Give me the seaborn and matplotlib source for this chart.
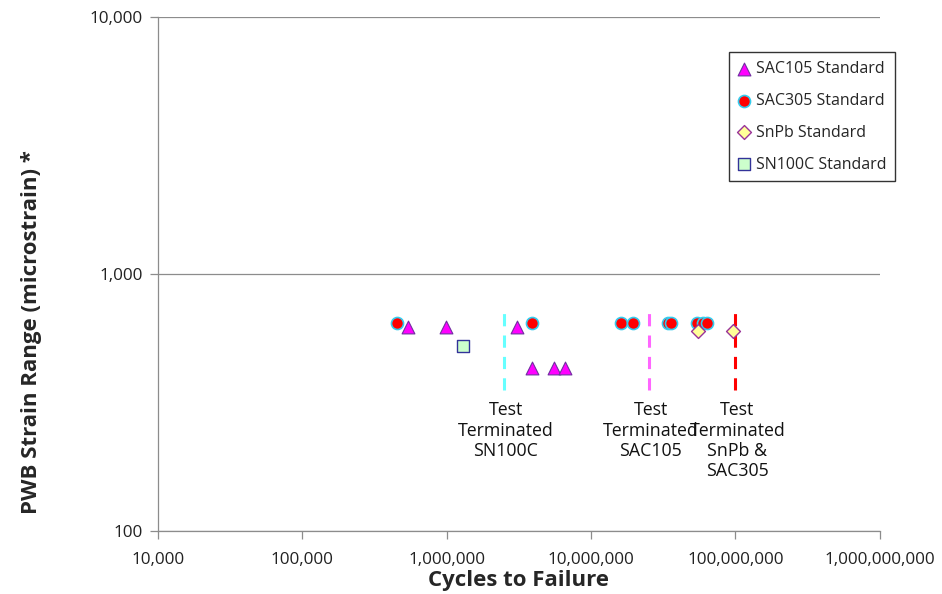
# libraries
import seaborn as sns
import matplotlib.pyplot as plt
import matplotlib.ticker as mticker
import pandas as pd

# data (cycles to failure, strain range)
sac105_cycles = [538000, 990000, 3060000, 3890000, 5520000, 6590000]
sac105_strain = [620, 620, 620, 430, 430, 430]

sac305_cycles = [452000, 3890000, 16100000, 19400000, 34000000, 35700000, 54100000, 59500000, 63400000]
sac305_strain = [645, 645, 645, 645, 645, 645, 645, 645, 645]

snpb_cycles = [55000000, 96000000]
snpb_strain = [600, 600]

sn100c_cycles = [1290000]
sn100c_strain = [525]

# test termination lines
term_cycles = [2490000, 25100000, 100000000]
term_colors = ["#66FFFF", "#FF66FF", "#FF0000"]
term_labels = ["Test\nTerminated\nSN100C", "Test\nTerminated\nSAC105", "Test\nTerminated\nSnPb &\nSAC305"]

sns.set_style("white")
plt.rcParams["font.family"] = ["Open Sans", "DejaVu Sans"]

fig = plt.figure(figsize=(9.42, 5.94), dpi=100)
ax = fig.add_axes([0.1677, 0.106, 0.7663, 0.8654])

ax.set_xscale("log")
ax.set_yscale("log")

# dashed termination lines
for xc, col in zip(term_cycles, term_colors):
    ax.vlines(xc, 354, 760, colors=col, linestyles=(0, (4, 3)), linewidth=2.2, zorder=2)

sns.scatterplot(x=sac105_cycles, y=sac105_strain, marker="^", s=85, color="#FF00FF",
                edgecolor="#7030A0", linewidth=0.8, label="SAC105 Standard", ax=ax, zorder=3)
sns.scatterplot(x=sac305_cycles, y=sac305_strain, marker="o", s=75, color="#FF0000",
                edgecolor="#33CCEE", linewidth=1.2, label="SAC305 Standard", ax=ax, zorder=3)
sns.scatterplot(x=snpb_cycles, y=snpb_strain, marker="D", s=50, color="#FFFF99",
                edgecolor="#993399", linewidth=1.0, label="SnPb Standard", ax=ax, zorder=4)
sns.scatterplot(x=sn100c_cycles, y=sn100c_strain, marker="s", s=75, color="#CCFFCC",
                edgecolor="#333399", linewidth=1.0, label="SN100C Standard", ax=ax, zorder=3)

# termination annotations
for xc, txt in zip(term_cycles, term_labels):
    ax.text(xc * 1.03, 320, txt, ha="center", va="top", fontsize=12.8,
            linespacing=1.17, color="#111111")

ax.set_xlim(1e4, 1e9)
ax.set_ylim(100, 10000)

ax.xaxis.set_major_locator(mticker.LogLocator(base=10, numticks=10))
ax.yaxis.set_major_locator(mticker.LogLocator(base=10, numticks=10))
ax.xaxis.set_minor_locator(mticker.NullLocator())
ax.yaxis.set_minor_locator(mticker.NullLocator())
fmt = mticker.FuncFormatter(lambda v, p: f"{v:,.0f}")
ax.xaxis.set_major_formatter(fmt)
ax.yaxis.set_major_formatter(fmt)

ax.grid(axis="y", color="#8C8C8C", linewidth=0.9)
ax.grid(axis="x", visible=False)
ax.set_axisbelow(True)

for side in ["top", "right"]:
    ax.spines[side].set_visible(False)
for side in ["left", "bottom"]:
    ax.spines[side].set_color("#8C8C8C")
    ax.spines[side].set_linewidth(0.9)

ax.tick_params(axis="both", which="major", direction="out", length=6, width=0.9,
               color="#8C8C8C", labelsize=12.3, labelcolor="#222222", pad=5, left=True, bottom=True)
ax.tick_params(axis="x", pad=9)

ax.set_xlabel("Cycles to Failure", fontsize=16, fontweight="bold")
ax.set_ylabel("PWB Strain Range (microstrain) *", fontsize=16, fontweight="bold")
ax.xaxis.set_label_coords(0.5, -0.076)
ax.yaxis.set_label_coords(-0.16, 0.387)

leg = ax.legend(loc="upper right", bbox_to_anchor=(1.021, 0.932), frameon=True, fancybox=False,
                edgecolor="black", fontsize=11.5, labelspacing=1.0, handletextpad=0.35,
                borderpad=0.55, handlelength=0.8, borderaxespad=0)
leg.get_frame().set_linewidth(1.0)

fig.savefig("out.png", dpi=100)
